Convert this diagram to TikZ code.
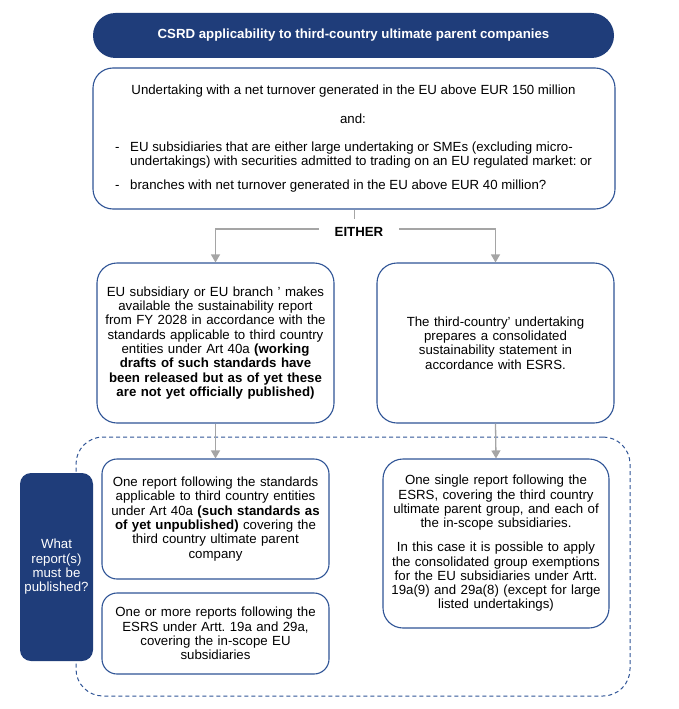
\documentclass[tikz,border=0pt]{standalone}
\usepackage{fontspec}
\setmainfont{Liberation Sans}
\usepackage{tikz}
\usetikzlibrary{calc,arrows.meta}
\definecolor{eublue}{RGB}{31,61,122}
\definecolor{euline}{RGB}{47,84,150}
\definecolor{linegray}{RGB}{165,165,165}
\newcommand{\boxfont}{\fontsize{13.25}{14.3}\selectfont}
\frenchspacing

\begin{document}
\begin{tikzpicture}[x=1pt,y=-1pt,
              txt/.style={inner sep=0pt, font=\boxfont},
              box/.style={draw=euline, line width=1.1pt, fill=white, rounded corners=20pt,
                          align=center, text width=222, inner sep=0pt, font=\boxfont},
              head/.style={fill=eublue, text=white, rounded corners=22.5pt, inner sep=0pt,
                           font=\boxfont\bfseries},
              link/.style={draw=linegray, line width=1.3pt},
              tip/.style={-{Triangle[length=8pt,width=9pt]}}]
              \useasboundingbox (0,0) rectangle (678,709);
              \node [head, minimum width=521, minimum height=45] (title) at (353.5,35.5)
                    {CSRD applicability to third-country ultimate parent companies};
              \node [box, minimum width=522, minimum height=141] (crit) at (354,138.5) {};
              \node [txt] (critA) at (353.5,91)
                    {Undertaking with a net turnover generated in the EU above EUR 150 million};
              \node [txt] (critB) at (353,119) {and:};
              \node [txt, anchor=west, align=left] (critC) at (115,155)
                    {\makebox[15pt][l]{-}EU subsidiaries that are either large undertaking or SMEs (excluding micro-\\
                     \hspace*{15pt}undertakings) with securities admitted to trading on an EU regulated market: or};
              \node [txt, anchor=west] (critD) at (115,186)
                    {\makebox[15pt][l]{-}branches with net turnover generated in the EU above EUR 40 million?};
              \node [txt, inner xsep=16pt] (either) at (359,232) {\bfseries EITHER};
              \coordinate (split) at (354,219);
              \node [box, minimum width=237, minimum height=160] (opt1) at (215.5,343)
                    {EU subsidiary or EU branch ' makes\\
                     available the sustainability report\\
                     from FY 2028 in accordance with the\\
                     standards applicable to third country\\
                     entities under Art 40a \textbf{(working}\\
                     \textbf{drafts of such standards have}\\
                     \textbf{been released but as of yet these}\\
                     \textbf{are not yet officially published)}};
              \node [box, minimum width=237, minimum height=160] (opt2) at (495.5,343)
                    {The third-country' undertaking\\
                     prepares a consolidated\\
                     sustainability statement in\\
                     accordance with ESRS.};
              \node [draw=euline, line width=1pt, dash pattern=on 4pt off 3pt, rounded corners=27pt,
                     minimum width=554, minimum height=259, inner sep=0pt] (scope) at (353,566.5) {};
              \node [fill=eublue, text=white, rounded corners=11pt, minimum width=73, minimum height=188,
                     align=center, text width=70, inner sep=0pt, font=\boxfont] (ask) at (56.5,567)
                    {What\\ report(s)\\ must be\\ published?};
              \node [box, rounded corners=15pt, minimum width=227, minimum height=120] (rep1) at (215.5,519)
                    {One report following the standards\\
                     applicable to third country entities\\
                     under Art 40a \textbf{(such standards as}\\
                     \textbf{of yet unpublished)} covering the\\
                     third country ultimate parent\\
                     company};
              \node [box, rounded corners=15pt, minimum width=227, minimum height=81] (rep2) at (215.5,633.5)
                    {One or more reports following the\\
                     ESRS under Artt. 19a and 29a,\\
                     covering the in-scope EU\\
                     subsidiaries};
              \node [box, minimum width=226, minimum height=169] (rep3) at (496,543.5)
                    {One single report following the\\
                     ESRS, covering the third country\\
                     ultimate parent group, and each of\\
                     the in-scope subsidiaries.\\[9.7pt]
                     In this case it is possible to apply\\
                     the consolidated group exemptions\\
                     for the EU subsidiaries under Artt.\\
                     19a(9) and 29a(8) (except for large\\
                     listed undertakings)};
              \draw [link, line width=1pt] (crit.south) -- (split);
              \draw [link, tip] ([yshift=3pt]either.west) -| (opt1.north);
              \draw [link, tip] ([yshift=3pt]either.east) -| (opt2.north);
              \draw [link, tip] (opt1.south) -- (rep1.north);
              \draw [link, tip] (opt2.south) -- (rep3.north);
              \end{tikzpicture}
\end{document}
